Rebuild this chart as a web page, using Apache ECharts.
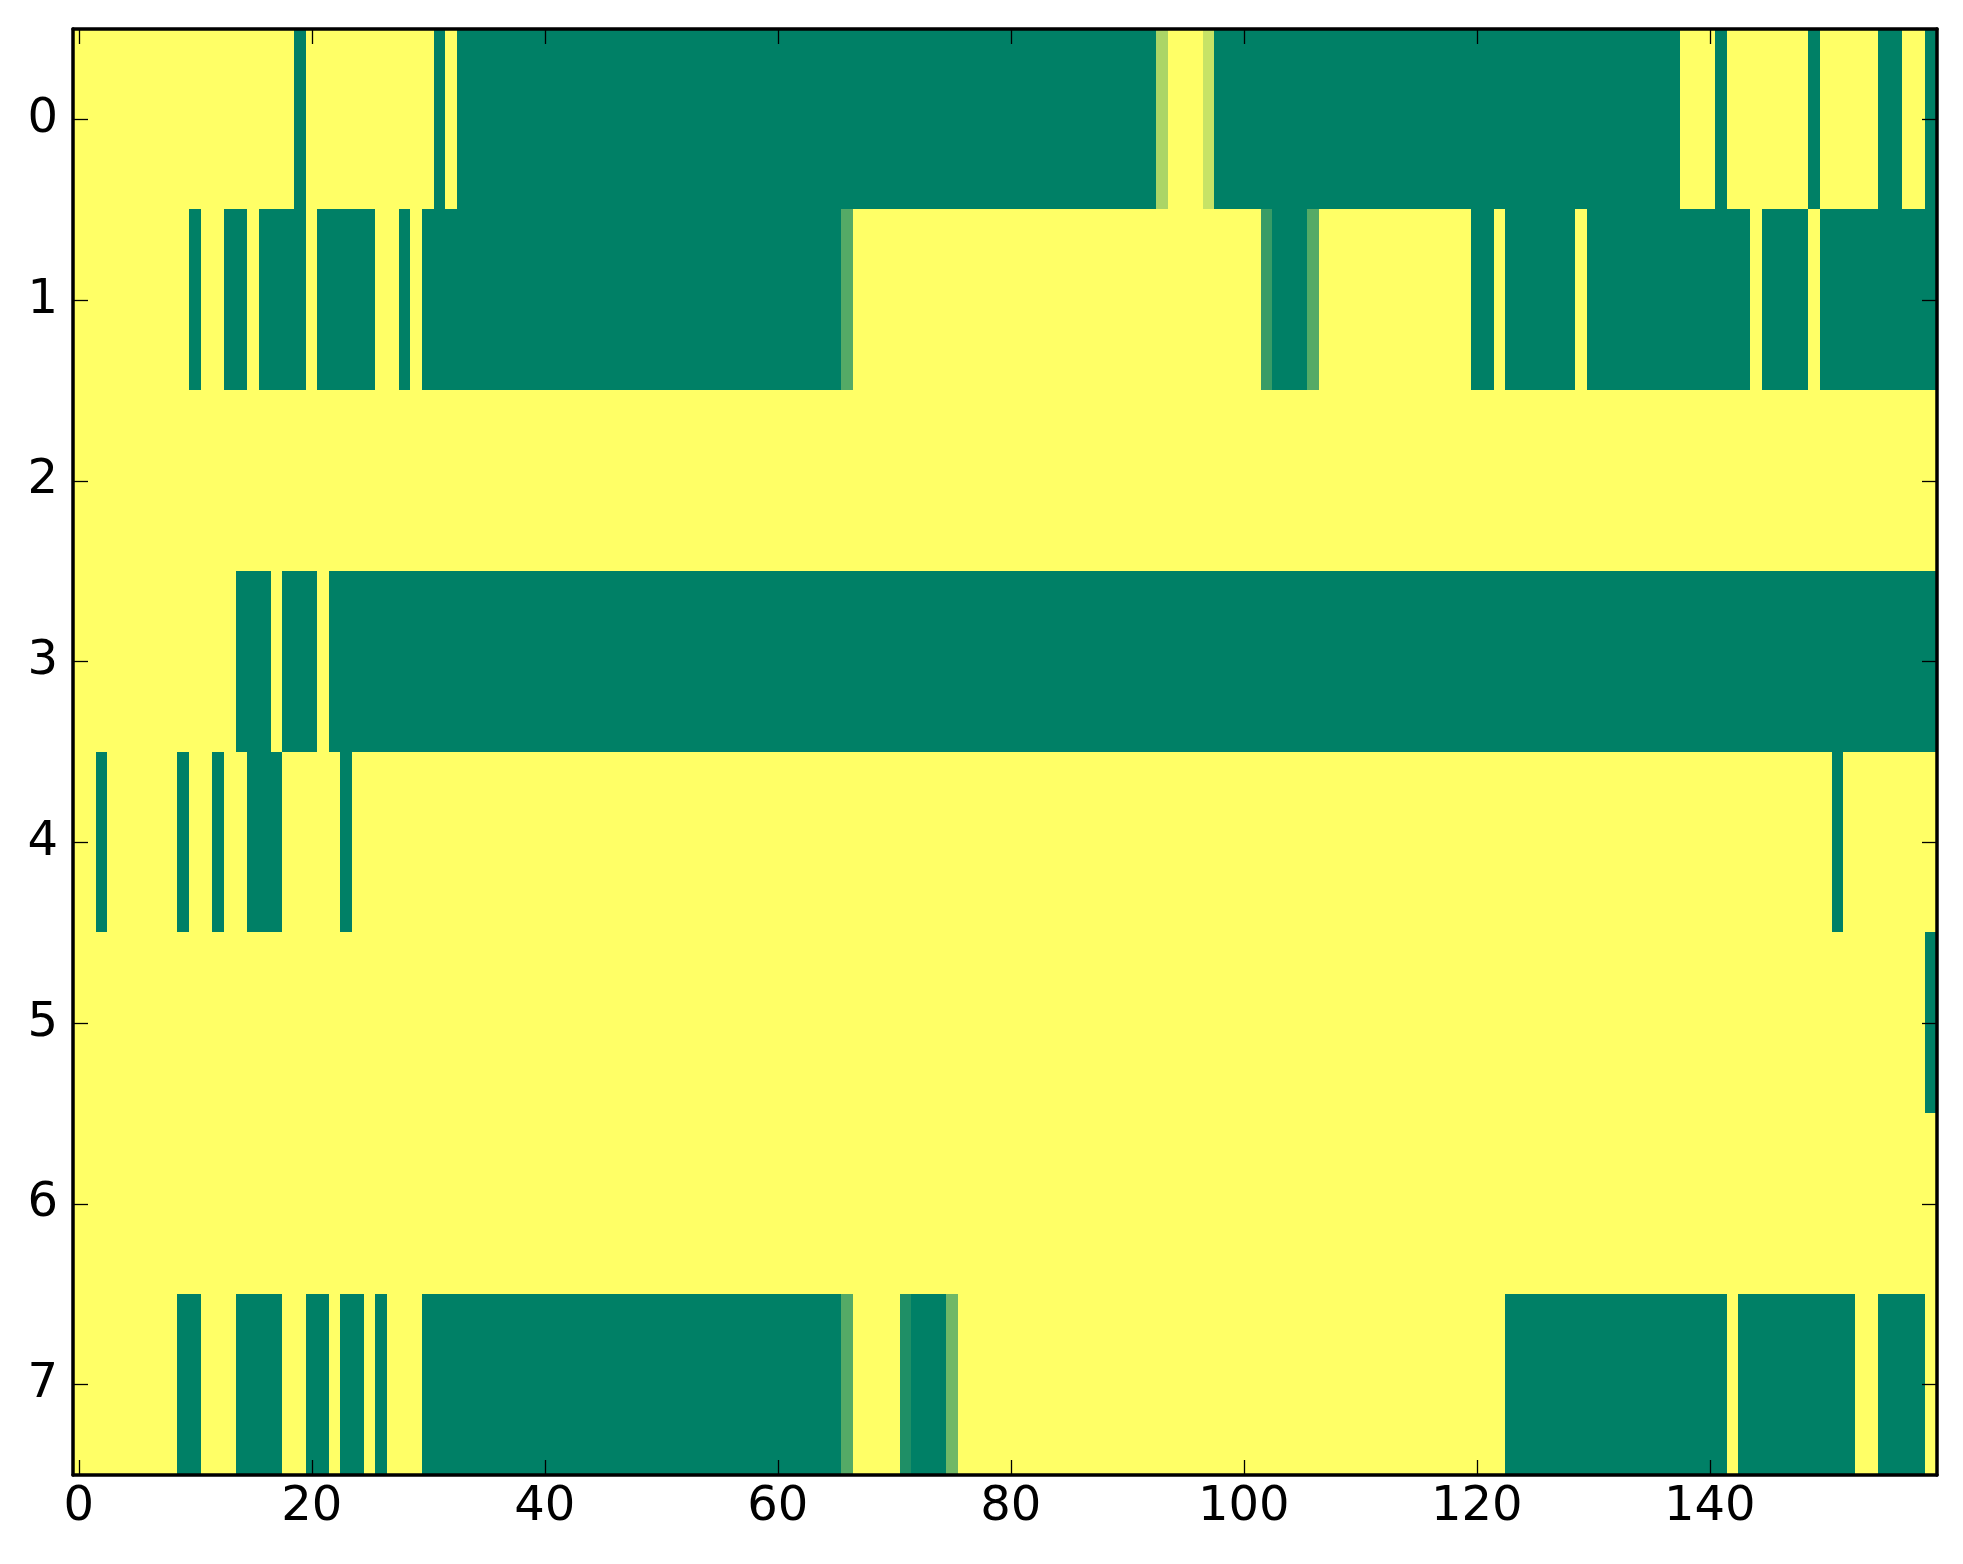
<!DOCTYPE html>
<html>
<head>
<meta charset="utf-8">
<script src="https://cdn.jsdelivr.net/npm/echarts@6/dist/echarts.min.js"></script>
<style>html,body{margin:0;padding:0;background:#fff}#c{width:1963px;height:1564px}</style>
</head>
<body>
<div id="c"></div>
<script>
// column categories 0..159 and row categories 0..7
var xCategories = [];
for (var i = 0; i < 160; i++) xCategories.push(String(i));
var yCategories = ['0','1','2','3','4','5','6','7'];
var xTickLabels = ['0','20','40','60','80','100','120','140'];

// values (0 = green, 1 = yellow), 20 per line
var row0 = [
1,1,1,1,1,1,1,1,1,1,1,1,1,1,1,1,1,1,1,0,
1,1,1,1,1,1,1,1,1,1,1,0,1,0,0,0,0,0,0,0,
0,0,0,0,0,0,0,0,0,0,0,0,0,0,0,0,0,0,0,0,
0,0,0,0,0,0,0,0,0,0,0,0,0,0,0,0,0,0,0,0,
0,0,0,0,0,0,0,0,0,0,0,0,0,0.67,1,1,1,0.78,0,0,
0,0,0,0,0,0,0,0,0,0,0,0,0,0,0,0,0,0,0,0,
0,0,0,0,0,0,0,0,0,0,0,0,0,0,0,0,0,0,1,1,
1,0,1,1,1,1,1,1,1,0,1,1,1,1,1,0,0,1,1,0
];
var row1 = [
1,1,1,1,1,1,1,1,1,1,0,1,1,0,0,1,0,0,0,0,
1,0,0,0,0,0,1,1,0,1,0,0,0,0,0,0,0,0,0,0,
0,0,0,0,0,0,0,0,0,0,0,0,0,0,0,0,0,0,0,0,
0,0,0,0,0,0,0.33,1,1,1,1,1,1,1,1,1,1,1,1,1,
1,1,1,1,1,1,1,1,1,1,1,1,1,1,1,1,1,1,1,1,
1,1,0.22,0,0,0,0.33,1,1,1,1,1,1,1,1,1,1,1,1,1,
0,0,1,0,0,0,0,0,0,1,0,0,0,0,0,0,0,0,0,0,
0,0,0,0,1,0,0,0,0,1,0,0,0,0,0,0,0,0,0,0
];
var row2 = [
1,1,1,1,1,1,1,1,1,1,1,1,1,1,1,1,1,1,1,1,
1,1,1,1,1,1,1,1,1,1,1,1,1,1,1,1,1,1,1,1,
1,1,1,1,1,1,1,1,1,1,1,1,1,1,1,1,1,1,1,1,
1,1,1,1,1,1,1,1,1,1,1,1,1,1,1,1,1,1,1,1,
1,1,1,1,1,1,1,1,1,1,1,1,1,1,1,1,1,1,1,1,
1,1,1,1,1,1,1,1,1,1,1,1,1,1,1,1,1,1,1,1,
1,1,1,1,1,1,1,1,1,1,1,1,1,1,1,1,1,1,1,1,
1,1,1,1,1,1,1,1,1,1,1,1,1,1,1,1,1,1,1,1
];
var row3 = [
1,1,1,1,1,1,1,1,1,1,1,1,1,1,0,0,0,1,0,0,
0,1,0,0,0,0,0,0,0,0,0,0,0,0,0,0,0,0,0,0,
0,0,0,0,0,0,0,0,0,0,0,0,0,0,0,0,0,0,0,0,
0,0,0,0,0,0,0,0,0,0,0,0,0,0,0,0,0,0,0,0,
0,0,0,0,0,0,0,0,0,0,0,0,0,0,0,0,0,0,0,0,
0,0,0,0,0,0,0,0,0,0,0,0,0,0,0,0,0,0,0,0,
0,0,0,0,0,0,0,0,0,0,0,0,0,0,0,0,0,0,0,0,
0,0,0,0,0,0,0,0,0,0,0,0,0,0,0,0,0,0,0,0
];
var row4 = [
1,1,0,1,1,1,1,1,1,0,1,1,0,1,1,0,0,0,1,1,
1,1,1,0,1,1,1,1,1,1,1,1,1,1,1,1,1,1,1,1,
1,1,1,1,1,1,1,1,1,1,1,1,1,1,1,1,1,1,1,1,
1,1,1,1,1,1,1,1,1,1,1,1,1,1,1,1,1,1,1,1,
1,1,1,1,1,1,1,1,1,1,1,1,1,1,1,1,1,1,1,1,
1,1,1,1,1,1,1,1,1,1,1,1,1,1,1,1,1,1,1,1,
1,1,1,1,1,1,1,1,1,1,1,1,1,1,1,1,1,1,1,1,
1,1,1,1,1,1,1,1,1,1,1,0,1,1,1,1,1,1,1,1
];
var row5 = [
1,1,1,1,1,1,1,1,1,1,1,1,1,1,1,1,1,1,1,1,
1,1,1,1,1,1,1,1,1,1,1,1,1,1,1,1,1,1,1,1,
1,1,1,1,1,1,1,1,1,1,1,1,1,1,1,1,1,1,1,1,
1,1,1,1,1,1,1,1,1,1,1,1,1,1,1,1,1,1,1,1,
1,1,1,1,1,1,1,1,1,1,1,1,1,1,1,1,1,1,1,1,
1,1,1,1,1,1,1,1,1,1,1,1,1,1,1,1,1,1,1,1,
1,1,1,1,1,1,1,1,1,1,1,1,1,1,1,1,1,1,1,1,
1,1,1,1,1,1,1,1,1,1,1,1,1,1,1,1,1,1,1,0
];
var row6 = [
1,1,1,1,1,1,1,1,1,1,1,1,1,1,1,1,1,1,1,1,
1,1,1,1,1,1,1,1,1,1,1,1,1,1,1,1,1,1,1,1,
1,1,1,1,1,1,1,1,1,1,1,1,1,1,1,1,1,1,1,1,
1,1,1,1,1,1,1,1,1,1,1,1,1,1,1,1,1,1,1,1,
1,1,1,1,1,1,1,1,1,1,1,1,1,1,1,1,1,1,1,1,
1,1,1,1,1,1,1,1,1,1,1,1,1,1,1,1,1,1,1,1,
1,1,1,1,1,1,1,1,1,1,1,1,1,1,1,1,1,1,1,1,
1,1,1,1,1,1,1,1,1,1,1,1,1,1,1,1,1,1,1,1
];
var row7 = [
1,1,1,1,1,1,1,1,1,0,0,1,1,1,0,0,0,0,1,1,
0,0,1,0,0,1,0,1,1,1,0,0,0,0,0,0,0,0,0,0,
0,0,0,0,0,0,0,0,0,0,0,0,0,0,0,0,0,0,0,0,
0,0,0,0,0,0,0.33,1,1,1,1,0.12,0,0,0,0.44,1,1,1,1,
1,1,1,1,1,1,1,1,1,1,1,1,1,1,1,1,1,1,1,1,
1,1,1,1,1,1,1,1,1,1,1,1,1,1,1,1,1,1,1,1,
1,1,1,0,0,0,0,0,0,0,0,0,0,0,0,0,0,0,0,0,
0,0,1,0,0,0,0,0,0,0,0,0,0,1,1,0,0,0,0,1
];

var rows = [row0, row1, row2, row3, row4, row5, row6, row7];
var cells = [];
rows.forEach(function (r, y) {
  r.forEach(function (v, x) { cells.push([x, y, v]); });
});

var FONT = 'DejaVu Sans';
var showTick = function (idx) { return xTickLabels.indexOf(String(idx)) >= 0; };
var frame = { show: true, onZero: false, lineStyle: { color: '#000', width: 3.5 } };
var tickStyle = { color: '#000', width: 1.3 };

function renderCell(params, api) {
  var c = api.coord([api.value(0), api.value(1)]);
  var s = api.size([1, 1]);
  var x0 = Math.floor(c[0] - s[0] / 2), x1 = Math.ceil(c[0] + s[0] / 2);
  var y0 = Math.floor(c[1] - s[1] / 2), y1 = Math.ceil(c[1] + s[1] / 2);
  return {
    type: 'rect',
    shape: { x: x0, y: y0, width: x1 - x0, height: y1 - y0 },
    style: { fill: api.visual('color') }
  };
}

var chart = echarts.init(document.getElementById('c'), null, { renderer: 'canvas' });
chart.setOption({
  animation: false,
  backgroundColor: '#fff',
  grid: { left: 73, right: 26, top: 29, bottom: 89, containLabel: false },
  visualMap: {
    show: false, type: 'continuous', min: 0, max: 1, dimension: 2, seriesIndex: 0,
    inRange: { color: ['#008066', '#ffff66'] }
  },
  xAxis: [{
    type: 'category', data: xCategories, position: 'bottom', z: 10,
    axisLine: frame,
    axisTick: { show: true, inside: true, length: 15, alignWithLabel: true, interval: showTick, lineStyle: tickStyle },
    axisLabel: { interval: showTick, margin: 9, color: '#000', fontFamily: FONT, fontSize: 48 },
    splitLine: { show: false }, splitArea: { show: false }
  }, {
    type: 'category', data: xCategories, position: 'top', z: 10,
    axisLine: frame,
    axisTick: { show: true, inside: true, length: 15, alignWithLabel: true, interval: showTick, lineStyle: tickStyle },
    axisLabel: { show: false },
    splitLine: { show: false }
  }],
  yAxis: [{
    type: 'category', data: yCategories, inverse: true, position: 'left', z: 10,
    axisLine: frame,
    axisTick: { show: true, inside: true, length: 15, alignWithLabel: true, interval: 0, lineStyle: tickStyle },
    axisLabel: { interval: 0, margin: 15, color: '#000', fontFamily: FONT, fontSize: 48 },
    splitLine: { show: false }, splitArea: { show: false }
  }, {
    type: 'category', data: yCategories, inverse: true, position: 'right', z: 10,
    axisLine: frame,
    axisTick: { show: true, inside: true, length: 15, alignWithLabel: true, interval: 0, lineStyle: tickStyle },
    axisLabel: { show: false },
    splitLine: { show: false }
  }],
  series: [{
    type: 'custom', xAxisIndex: 0, yAxisIndex: 0, data: cells,
    renderItem: renderCell,
    encode: { x: 0, y: 1 },
    z: 1, silent: true, progressive: 0
  }]
});
</script>
</body>
</html>
